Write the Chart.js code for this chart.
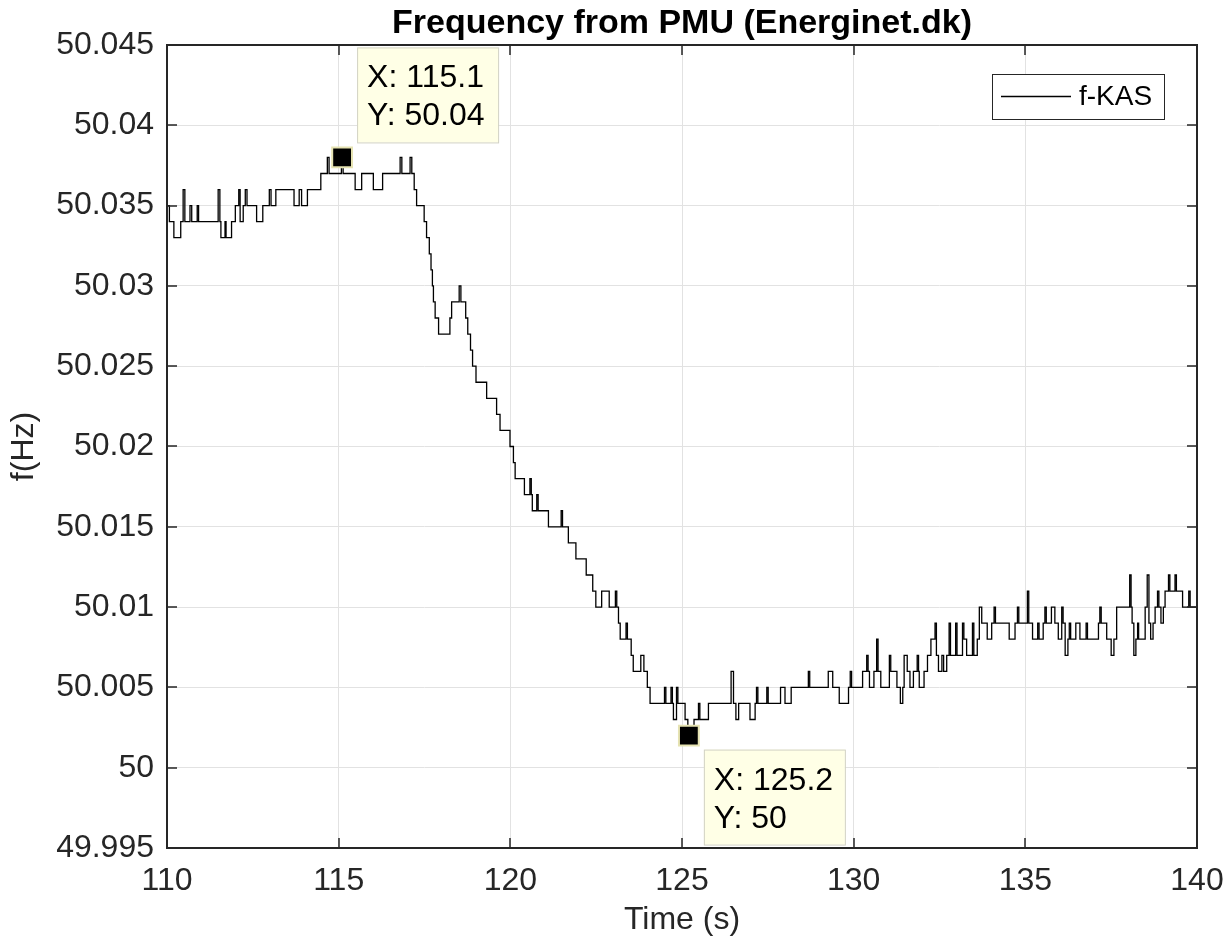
<!DOCTYPE html>
<html>
<head>
<meta charset="utf-8">
<title>Frequency from PMU (Energinet.dk)</title>
<script src="https://cdn.jsdelivr.net/npm/chart.js@4/dist/chart.umd.min.js"></script>
<style>
  html, body { margin: 0; padding: 0; background: #fff; }
  #wrap { width: 1227px; height: 940px; position: relative; }
</style>
</head>
<body>
<div id="wrap"><canvas id="freqChart"></canvas></div>
<script>
/* PMU frequency trace (f-KAS), stepped line with two data tips. */

var FONT = '"Liberation Sans", Arial, Helvetica, sans-serif';
var INK = "#262626";
var TITLE = "Frequency from PMU (Energinet.dk)";

// axis ticks
var xTicks = [110, 115, 120, 125, 130, 135, 140];
var xTickLabels = ["110", "115", "120", "125", "130", "135", "140"];
var yTicks = [49.995, 50, 50.005, 50.01, 50.015, 50.02, 50.025, 50.03, 50.035, 50.04, 50.045];
var yTickLabels = ["49.995", "50", "50.005", "50.01", "50.015", "50.02", "50.025", "50.03", "50.035", "50.04", "50.045"];

// f-KAS: times (s) where the reported frequency changes, and the new value (Hz)
var times = [
  110.00, 110.07, 110.20, 110.40, 110.47, 110.52, 110.67, 110.72, 110.88, 110.92,
  111.49, 111.54, 111.57, 111.69, 111.72, 111.88, 111.99, 112.09, 112.13, 112.22,
  112.28, 112.33, 112.61, 112.79, 112.98, 113.03, 113.17, 113.70, 113.85, 113.92,
  114.09, 114.48, 114.67, 114.72, 115.08, 115.13, 115.48, 115.67, 116.01, 116.28,
  116.79, 116.84, 117.08, 117.13, 117.20, 117.27, 117.49, 117.56, 117.64, 117.69,
  117.73, 117.76, 117.81, 117.91, 118.24, 118.29, 118.51, 118.56, 118.70, 118.76,
  118.84, 118.90, 119.00, 119.31, 119.60, 119.70, 119.99, 120.09, 120.14, 120.41,
  120.57, 120.61, 120.64, 120.77, 120.81, 121.11, 121.48, 121.52, 121.69, 121.91,
  122.21, 122.40, 122.49, 122.66, 122.88, 123.06, 123.10, 123.15, 123.20, 123.37,
  123.41, 123.52, 123.58, 123.80, 123.89, 123.99, 124.07, 124.49, 124.53, 124.68,
  124.72, 124.75, 124.84, 124.88, 125.09, 125.17, 125.35, 125.48, 125.52, 125.77,
  126.43, 126.50, 126.57, 126.65, 126.98, 127.13, 127.17, 127.21, 127.47, 127.51,
  127.87, 128.00, 128.18, 128.68, 128.72, 129.26, 129.39, 129.58, 129.85, 129.90,
  129.94, 130.26, 130.38, 130.42, 130.46, 130.59, 130.67, 130.71, 130.79, 131.04,
  131.08, 131.26, 131.36, 131.43, 131.47, 131.56, 131.64, 131.74, 131.85, 131.89,
  131.91, 132.05, 132.15, 132.25, 132.37, 132.41, 132.47, 132.57, 132.62, 132.71,
  132.78, 132.82, 132.97, 133.01, 133.17, 133.21, 133.29, 133.46, 133.50, 133.60,
  133.66, 133.73, 133.89, 134.02, 134.09, 134.13, 134.53, 134.70, 134.77, 134.81,
  135.06, 135.10, 135.21, 135.36, 135.40, 135.52, 135.57, 135.61, 135.76, 135.86,
  135.96, 136.06, 136.10, 136.16, 136.24, 136.28, 136.32, 136.47, 136.59, 136.77,
  136.81, 137.13, 137.17, 137.21, 137.37, 137.50, 137.58, 137.66, 138.04, 138.08,
  138.11, 138.16, 138.22, 138.27, 138.30, 138.49, 138.55, 138.60, 138.65, 138.72,
  138.78, 138.85, 138.89, 138.95, 139.02, 139.07, 139.17, 139.21, 139.36, 139.40,
  139.58, 139.76, 139.80, 140.00
];
var freq = [
  50.035, 50.034, 50.033, 50.034, 50.036, 50.034, 50.035, 50.034, 50.035, 50.034,
  50.036, 50.034, 50.033, 50.034, 50.033, 50.034, 50.035, 50.036, 50.034, 50.035,
  50.036, 50.035, 50.034, 50.035, 50.036, 50.035, 50.036, 50.035, 50.036, 50.035,
  50.036, 50.037, 50.038, 50.037, 50.038, 50.037, 50.036, 50.037, 50.036, 50.037,
  50.038, 50.037, 50.038, 50.037, 50.036, 50.035, 50.034, 50.033, 50.032, 50.031,
  50.030, 50.029, 50.028, 50.027, 50.028, 50.029, 50.030, 50.029, 50.028, 50.027,
  50.026, 50.025, 50.024, 50.023, 50.022, 50.021, 50.020, 50.019, 50.018, 50.017,
  50.018, 50.017, 50.016, 50.017, 50.016, 50.015, 50.016, 50.015, 50.014, 50.013,
  50.012, 50.011, 50.010, 50.011, 50.010, 50.011, 50.010, 50.009, 50.008, 50.009,
  50.008, 50.007, 50.006, 50.007, 50.006, 50.005, 50.004, 50.005, 50.004, 50.005,
  50.004, 50.003, 50.005, 50.004, 50.003, 50.002, 50.003, 50.004, 50.003, 50.004,
  50.006, 50.004, 50.003, 50.004, 50.003, 50.004, 50.005, 50.004, 50.005, 50.004,
  50.005, 50.004, 50.005, 50.006, 50.005, 50.006, 50.005, 50.004, 50.005, 50.006,
  50.005, 50.006, 50.007, 50.006, 50.005, 50.006, 50.008, 50.006, 50.005, 50.007,
  50.006, 50.005, 50.004, 50.005, 50.007, 50.006, 50.005, 50.006, 50.007, 50.006,
  50.005, 50.006, 50.007, 50.008, 50.009, 50.007, 50.006, 50.007, 50.006, 50.007,
  50.009, 50.007, 50.009, 50.007, 50.009, 50.008, 50.007, 50.009, 50.007, 50.008,
  50.010, 50.009, 50.008, 50.009, 50.010, 50.009, 50.008, 50.009, 50.010, 50.009,
  50.011, 50.009, 50.008, 50.009, 50.008, 50.009, 50.010, 50.009, 50.010, 50.009,
  50.008, 50.010, 50.009, 50.007, 50.008, 50.009, 50.008, 50.009, 50.008, 50.009,
  50.008, 50.009, 50.010, 50.009, 50.008, 50.007, 50.008, 50.010, 50.012, 50.010,
  50.009, 50.007, 50.008, 50.009, 50.008, 50.010, 50.012, 50.009, 50.008, 50.009,
  50.010, 50.011, 50.010, 50.009, 50.010, 50.011, 50.012, 50.011, 50.012, 50.011,
  50.010, 50.011, 50.010, 50.010
];

// data tips
var tipX = [115.1, 125.2];
var tipY = [50.038, 50.002];
var tipText = [["X: 115.1", "Y: 50.04"], ["X: 125.2", "Y: 50"]];
var tipSide = ["above", "below"];

// inward tick marks + box round the axes
var axesBox = {
  id: "axesBox",
  afterDatasetsDraw: function (chart) {
    var ctx = chart.ctx, a = chart.chartArea;
    var sx = chart.scales.x, sy = chart.scales.y;
    ctx.save();
    ctx.strokeStyle = INK;
    ctx.lineWidth = 1.5;
    ctx.beginPath();
    xTicks.forEach(function (v) {
      var p = Math.round(sx.getPixelForValue(v));
      ctx.moveTo(p, a.bottom); ctx.lineTo(p, a.bottom - 10);
      ctx.moveTo(p, a.top); ctx.lineTo(p, a.top + 10);
    });
    yTicks.forEach(function (v) {
      var p = Math.round(sy.getPixelForValue(v));
      ctx.moveTo(a.left, p); ctx.lineTo(a.left + 10, p);
      ctx.moveTo(a.right, p); ctx.lineTo(a.right - 10, p);
    });
    ctx.stroke();
    ctx.lineWidth = 2;
    ctx.strokeRect(a.left, a.top, a.right - a.left, a.bottom - a.top);
    ctx.restore();
  }
};

// title over the axes, legend box and data tip labels
var overlays = {
  id: "overlays",
  afterDraw: function (chart) {
    var ctx = chart.ctx, a = chart.chartArea;
    var sx = chart.scales.x, sy = chart.scales.y;
    ctx.save();

    // title, centred on the plot area like MATLAB does
    ctx.fillStyle = "#000";
    ctx.font = "bold 34px " + FONT;
    ctx.textAlign = "center";
    ctx.textBaseline = "alphabetic";
    ctx.fillText(TITLE, (a.left + a.right) / 2, a.top - 12);

    // legend
    var lw = 172, lh = 45;
    var lx = a.right - 33 - lw, ly = a.top + 29;
    ctx.fillStyle = "#fff";
    ctx.fillRect(lx, ly, lw, lh);
    ctx.strokeStyle = INK;
    ctx.lineWidth = 1;
    ctx.strokeRect(lx + 0.5, ly + 0.5, lw, lh);
    ctx.strokeStyle = "#000";
    ctx.lineWidth = 1.3;
    ctx.beginPath();
    ctx.moveTo(lx + 9, ly + lh / 2);
    ctx.lineTo(lx + 79, ly + lh / 2);
    ctx.stroke();
    ctx.fillStyle = "#000";
    ctx.font = "28px " + FONT;
    ctx.textBaseline = "middle";
    ctx.textAlign = "left";
    ctx.fillText(chart.data.datasets[0].label, lx + 87, ly + lh / 2 + 1);

    // data tips
    ctx.font = "32px " + FONT;
    ctx.textBaseline = "alphabetic";
    tipX.forEach(function (x, i) {
      var px = sx.getPixelForValue(x), py = sy.getPixelForValue(tipY[i]);
      var bw = 141, bh = 95;
      var bx = px + 15;
      var by = tipSide[i] === "above" ? py - 15 - bh : py + 14;
      ctx.fillStyle = "#ffffe6";
      ctx.fillRect(bx, by, bw, bh);
      ctx.strokeStyle = "#d2d2c4";
      ctx.lineWidth = 1;
      ctx.strokeRect(bx + 0.5, by + 0.5, bw, bh);
      ctx.fillStyle = "#000";
      ctx.fillText(tipText[i][0], bx + 10, by + 40);
      ctx.fillText(tipText[i][1], bx + 10, by + 78);
    });
    ctx.restore();
  }
};

function init() {
  var ctx = document.getElementById("freqChart").getContext("2d");
  var series = times.map(function (t, i) { return { x: t, y: freq[i] }; });
  var tips = tipX.map(function (t, i) { return { x: t, y: tipY[i] }; });

  new Chart(ctx, {
    type: "line",
    data: {
      datasets: [
        {
          label: "f-KAS",
          data: series,
          stepped: true,
          borderColor: "#000",
          borderWidth: 1.3,
          pointRadius: 0,
          fill: false,
          order: 2
        },
        {
          label: "tips",
          data: tips,
          showLine: false,
          pointStyle: "rect",
          pointRadius: 14,
          pointBackgroundColor: "#000",
          pointBorderColor: "#e6e3b2",
          pointBorderWidth: 2,
          order: 1
        }
      ]
    },
    options: {
      responsive: true,
      maintainAspectRatio: false,
      animation: false,
      events: [],
      layout: { padding: { left: 0, right: 30, top: 45, bottom: 0 } },
      plugins: {
        legend: { display: false },
        tooltip: { enabled: false },
        title: { display: false }
      },
      scales: {
        x: {
          type: "linear",
          min: 110,
          max: 140,
          afterBuildTicks: function (s) { s.ticks = xTicks.map(function (v) { return { value: v }; }); },
          afterFit: function (s) {
            s.height = 92;
            s.paddingRight = 0;
            s.paddingLeft = 0;
          },
          ticks: {
            color: INK,
            padding: 14,
            font: { family: FONT, size: 32 },
            callback: function (v, i) { return xTickLabels[i]; }
          },
          grid: { color: "#e2e2e2", lineWidth: 1, drawTicks: false },
          border: { display: false },
          title: {
            display: true,
            text: "Time (s)",
            color: INK,
            font: { family: FONT, size: 32 },
            padding: { top: 0, bottom: 1 }
          }
        },
        y: {
          min: 49.995,
          max: 50.045,
          afterBuildTicks: function (s) { s.ticks = yTicks.map(function (v) { return { value: v }; }); },
          afterFit: function (s) {
            s.width = 167;
            s.paddingTop = 0;
            s.paddingBottom = 0;
          },
          ticks: {
            color: INK,
            padding: 13,
            font: { family: FONT, size: 32 },
            callback: function (v, i) { return yTickLabels[i]; }
          },
          grid: { color: "#e2e2e2", lineWidth: 1, drawTicks: false },
          border: { display: false },
          title: {
            display: true,
            text: "f(Hz)",
            color: INK,
            font: { family: FONT, size: 32 },
            padding: { top: 5, bottom: 0 }
          }
        }
      }
    },
    plugins: [axesBox, overlays]
  });
}

document.addEventListener("DOMContentLoaded", init);
</script>
</body>
</html>
